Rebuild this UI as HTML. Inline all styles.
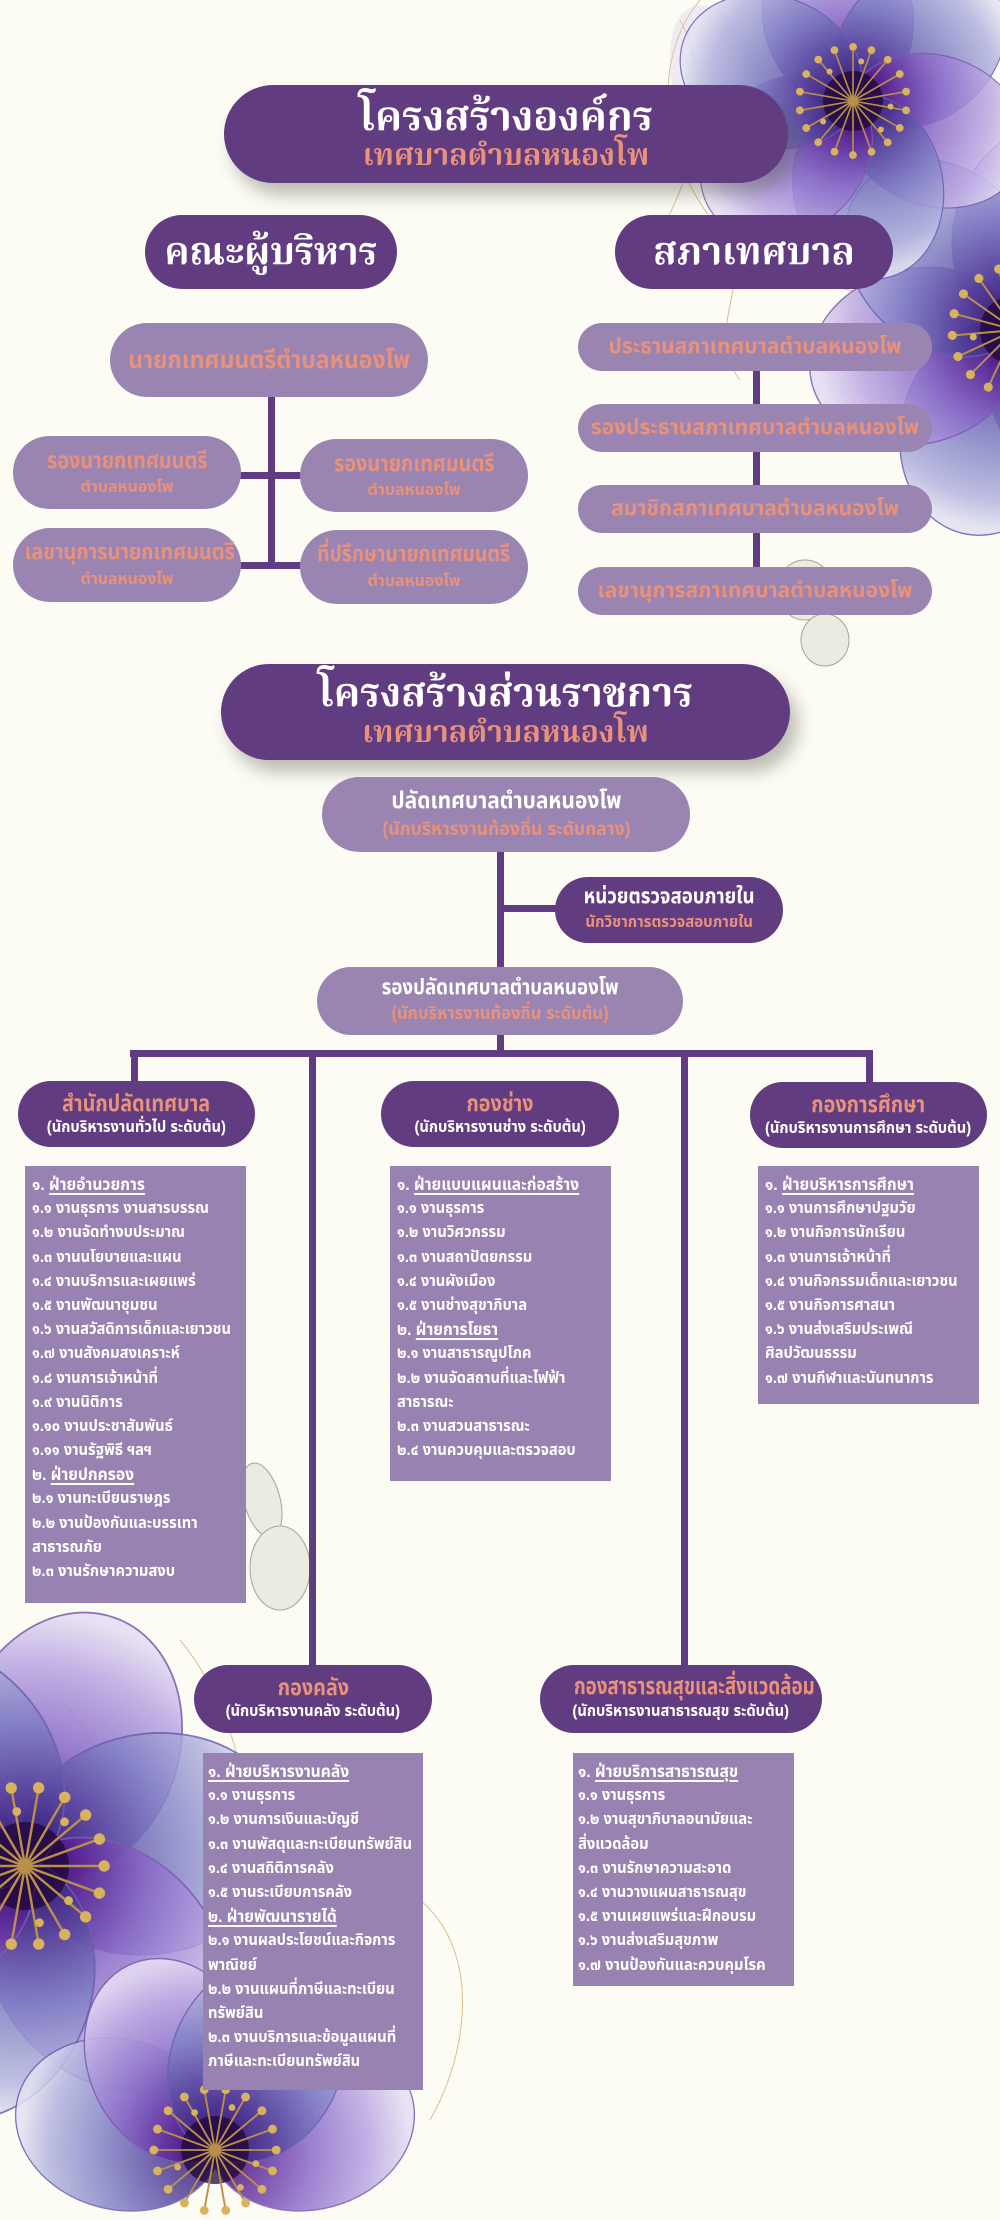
<!DOCTYPE html>
<html lang="th">
<head>
<meta charset="utf-8">
<style>
*{margin:0;padding:0;box-sizing:border-box}
html,body{width:1000px;height:2220px;overflow:hidden;background:#fcfbf4}
body{position:relative;font-family:"Liberation Sans","Noto Sans Thai","Noto Sans Thai UI","Sarabun","Loma","Garuda","Tlwg Typo","DejaVu Sans",sans-serif;font-weight:bold}
.a{position:absolute}
.pill{position:absolute;border-radius:999px;text-align:center;white-space:nowrap}
.dk{background:#613c80}
.lt{background:#9a84b2}
.ln{position:absolute;background:#613c80}
.w{color:#fff}
.s{color:#e8917b}
.serif{font-family:"Liberation Serif","Noto Serif Thai","Kinnari","Norasi","Noto Sans Thai",serif}
.hdr{box-shadow:8px 12px 16px rgba(70,75,60,.35)}
.c{display:inline-block;transform-origin:50% 50%}
.box{position:absolute;background:#9882b1;color:#fff;font-size:16px;line-height:24.2px;padding:7px 0 0 7px;white-space:nowrap}
.box div{height:24.2px;transform:scaleX(.92);transform-origin:0 50%}
.box u{text-decoration:underline;text-decoration-thickness:1.5px;text-underline-offset:3px}
.dept .t{font-size:23px;line-height:28px;color:#e8917b}
.dept .u{font-size:16px;line-height:22px;color:#fff}
.dept .t span{display:inline-block;transform:scaleX(.86)}
.dept .u span{display:inline-block;transform:scaleX(.92)}
.dept{padding-top:8px}
#bg{position:absolute;left:0;top:0;width:1000px;height:2220px;overflow:hidden}
</style>
</head>
<body>

<div id="bg">
<svg width="1000" height="2220" viewBox="0 0 1000 2220" style="display:block;overflow:hidden">
<defs>
<radialGradient id="pg" cx="0" cy="0" r="115" gradientUnits="userSpaceOnUse">
<stop offset="0" stop-color="#24083f"/>
<stop offset="0.2" stop-color="#5a2293"/>
<stop offset="0.5" stop-color="#8b6dc9"/>
<stop offset="0.8" stop-color="#bba8e2"/>
<stop offset="1" stop-color="#e6ddf3"/>
</radialGradient>
<radialGradient id="pb" cx="0" cy="0" r="115" gradientUnits="userSpaceOnUse">
<stop offset="0" stop-color="#2c1660"/>
<stop offset="0.25" stop-color="#4f3b96"/>
<stop offset="0.55" stop-color="#7d7cc2"/>
<stop offset="0.85" stop-color="#b3b4de"/>
<stop offset="1" stop-color="#e2e2f2"/>
</radialGradient>
<g id="st">
<circle r="20" fill="#22073a" opacity=".75"/>
<path d="M0 0L36 0M0 0L33.8 12.3M0 0L27.6 23.1M0 0L18 31.2M0 0L6.3 35.5M0 0L-6.3 35.5M0 0L-18 31.2M0 0L-27.6 23.1M0 0L-33.8 12.3M0 0L-36 0M0 0L-33.8 -12.3M0 0L-27.6 -23.1M0 0L-18 -31.2M0 0L-6.3 -35.5M0 0L6.3 -35.5M0 0L18 -31.2M0 0L27.6 -23.1M0 0L33.8 -12.3" stroke="#b8904a" stroke-width="1.1" fill="none"/>
<g fill="#d8b25c">
<circle cx="36" cy="0" r="2.6"/><circle cx="33.8" cy="12.3" r="2.6"/><circle cx="27.6" cy="23.1" r="2.6"/><circle cx="18" cy="31.2" r="2.6"/><circle cx="6.3" cy="35.5" r="2.6"/><circle cx="-6.3" cy="35.5" r="2.6"/><circle cx="-18" cy="31.2" r="2.6"/><circle cx="-27.6" cy="23.1" r="2.6"/><circle cx="-33.8" cy="12.3" r="2.6"/><circle cx="-36" cy="0" r="2.6"/><circle cx="-33.8" cy="-12.3" r="2.6"/><circle cx="-27.6" cy="-23.1" r="2.6"/><circle cx="-18" cy="-31.2" r="2.6"/><circle cx="-6.3" cy="-35.5" r="2.6"/><circle cx="6.3" cy="-35.5" r="2.6"/><circle cx="18" cy="-31.2" r="2.6"/><circle cx="27.6" cy="-23.1" r="2.6"/><circle cx="33.8" cy="-12.3" r="2.6"/>
<circle cx="24" cy="8" r="2"/><circle cx="-22" cy="10" r="2"/><circle cx="10" cy="-25" r="2"/><circle cx="-12" cy="-22" r="2"/><circle cx="15" cy="22" r="2"/>
</g>
</g>
<g id="fl">
<ellipse cx="0" cy="-58" rx="50" ry="62" fill="url(#pg)" opacity=".88" stroke="#7a5cb0" stroke-width=".8"/>
<ellipse cx="0" cy="-58" rx="50" ry="62" fill="url(#pb)" opacity=".85" stroke="#6d5cb0" stroke-width=".8" transform="rotate(60)"/>
<ellipse cx="0" cy="-58" rx="50" ry="62" fill="url(#pg)" opacity=".85" stroke="#7a5cb0" stroke-width=".8" transform="rotate(120)"/>
<ellipse cx="0" cy="-58" rx="50" ry="62" fill="url(#pb)" opacity=".85" stroke="#6d5cb0" stroke-width=".8" transform="rotate(180)"/>
<ellipse cx="0" cy="-58" rx="50" ry="62" fill="url(#pg)" opacity=".85" stroke="#7a5cb0" stroke-width=".8" transform="rotate(240)"/>
<ellipse cx="0" cy="-58" rx="50" ry="62" fill="url(#pb)" opacity=".85" stroke="#6d5cb0" stroke-width=".8" transform="rotate(300)"/>
<use href="#st"/>
</g>
<g id="flh">
<ellipse cx="0" cy="-58" rx="50" ry="62" fill="url(#pb)" opacity=".85" stroke="#6d5cb0" stroke-width=".8" transform="rotate(-75)"/>
<ellipse cx="0" cy="-58" rx="50" ry="62" fill="url(#pg)" opacity=".85" stroke="#7a5cb0" stroke-width=".8" transform="rotate(75)"/>
<ellipse cx="0" cy="-58" rx="50" ry="62" fill="url(#pg)" opacity=".88" stroke="#7a5cb0" stroke-width=".8" transform="rotate(-25)"/>
<ellipse cx="0" cy="-58" rx="50" ry="62" fill="url(#pb)" opacity=".85" stroke="#6d5cb0" stroke-width=".8" transform="rotate(25)"/>
<use href="#st"/>
</g>
</defs>

<g fill="none" stroke="#c9a862" stroke-width="1" opacity=".7">
<path d="M700 0C650 60 660 160 720 230C760 280 700 330 740 380"/>
<path d="M680 20C720 90 690 200 640 260"/>
<path d="M760 250C820 300 880 280 930 330"/>
<path d="M60 1700C120 1760 160 1900 140 2000"/>
<path d="M300 1760C340 1820 300 1900 360 1960"/>
<path d="M420 1900C480 1950 470 2050 430 2120"/>
<path d="M180 1640C230 1700 260 1800 240 1880"/>
</g>
<g opacity=".35" fill="#d9cdee">
<ellipse cx="730" cy="110" rx="50" ry="110" transform="rotate(-20 730 110)"/>
<ellipse cx="330" cy="1900" rx="50" ry="120" transform="rotate(30 330 1900)"/>
</g>

<use href="#fl" transform="translate(1015,330) scale(1.75) rotate(15)"/>
<use href="#fl" transform="translate(853,101) scale(1.5) rotate(-10)"/>
<use href="#fl" transform="translate(25,1866) scale(2.2) rotate(20)"/>
<use href="#flh" transform="translate(215,2150) scale(1.7)"/>

<g fill="#ecebe2" stroke="#a5a595" stroke-width="1">
<ellipse cx="805" cy="590" rx="28" ry="30"/>
<ellipse cx="825" cy="640" rx="24" ry="26"/>
<ellipse cx="262" cy="1500" rx="18" ry="38" transform="rotate(-15 262 1500)"/>
<ellipse cx="280" cy="1568" rx="30" ry="42"/>
</g>
</svg>
</div>

<!-- ===== Section 1 ===== -->
<div class="pill dk hdr" style="left:224px;top:85px;width:564px;height:98px;padding-top:8px">
<div class="w serif" style="font-size:41px;line-height:46px">โครงสร้างองค์กร</div>
<div class="s serif" style="font-size:30px;line-height:34px">เทศบาลตำบลหนองโพ</div>
</div>

<div class="pill dk" style="left:145px;top:215px;width:252px;height:74px;line-height:74px">
<span class="w serif" style="font-size:38px">คณะผู้บริหาร</span>
</div>
<div class="pill dk" style="left:615px;top:215px;width:278px;height:74px;line-height:74px">
<span class="w serif" style="font-size:38px">สภาเทศบาล</span>
</div>

<div class="ln" style="left:268px;top:396px;width:7px;height:173px"></div>
<div class="ln" style="left:240px;top:472px;width:61px;height:7px"></div>
<div class="ln" style="left:240px;top:562px;width:61px;height:7px"></div>

<div class="pill lt" style="left:110px;top:323px;width:318px;height:74px;line-height:74px">
<span class="s c" style="font-size:25px;transform:scaleX(.92)">นายกเทศมนตรีตำบลหนองโพ</span>
</div>

<div class="pill lt" style="left:13px;top:436px;width:228px;height:73px;padding-top:10px">
<div class="s" style="font-size:23px;line-height:28px"><span class="c" style="transform:scaleX(.86)">รองนายกเทศมนตรี</span></div>
<div class="s" style="font-size:16px;line-height:24px;margin-top:2px">ตำบลหนองโพ</div>
</div>
<div class="pill lt" style="left:300px;top:439px;width:228px;height:73px;padding-top:10px">
<div class="s" style="font-size:23px;line-height:28px"><span class="c" style="transform:scaleX(.86)">รองนายกเทศมนตรี</span></div>
<div class="s" style="font-size:16px;line-height:24px;margin-top:2px">ตำบลหนองโพ</div>
</div>
<div class="pill lt" style="left:13px;top:528px;width:228px;height:74px;padding-top:10px">
<div class="s" style="font-size:22px;line-height:28px"><span class="c" style="transform:scaleX(.9)">เลขานุการนายกเทศมนตรี</span></div>
<div class="s" style="font-size:16px;line-height:24px;margin-top:2px">ตำบลหนองโพ</div>
</div>
<div class="pill lt" style="left:300px;top:530px;width:228px;height:74px;padding-top:10px">
<div class="s" style="font-size:22px;line-height:28px"><span class="c" style="transform:scaleX(.88)">ที่ปรึกษานายกเทศมนตรี</span></div>
<div class="s" style="font-size:16px;line-height:24px;margin-top:2px">ตำบลหนองโพ</div>
</div>

<div class="ln" style="left:753px;top:370px;width:7px;height:198px"></div>
<div class="pill lt" style="left:578px;top:323px;width:354px;height:48px;line-height:48px"><span class="s" style="font-size:21px">ประธานสภาเทศบาลตำบลหนองโพ</span></div>
<div class="pill lt" style="left:578px;top:404px;width:354px;height:48px;line-height:48px"><span class="s" style="font-size:21px">รองประธานสภาเทศบาลตำบลหนองโพ</span></div>
<div class="pill lt" style="left:578px;top:485px;width:354px;height:48px;line-height:48px"><span class="s" style="font-size:21px">สมาชิกสภาเทศบาลตำบลหนองโพ</span></div>
<div class="pill lt" style="left:578px;top:567px;width:354px;height:48px;line-height:48px"><span class="s" style="font-size:21px">เลขานุการสภาเทศบาลตำบลหนองโพ</span></div>

<!-- ===== Section 2 ===== -->
<div class="pill dk hdr" style="left:221px;top:664px;width:569px;height:96px;padding-top:6px">
<div class="w serif" style="font-size:40px;line-height:46px">โครงสร้างส่วนราชการ</div>
<div class="s serif" style="font-size:30px;line-height:34px">เทศบาลตำบลหนองโพ</div>
</div>

<div class="ln" style="left:497px;top:851px;width:7px;height:205px"></div>
<div class="ln" style="left:503px;top:905px;width:53px;height:7px"></div>
<div class="ln" style="left:130px;top:1050px;width:743px;height:7px"></div>
<div class="ln" style="left:131px;top:1050px;width:7px;height:32px"></div>
<div class="ln" style="left:866px;top:1050px;width:7px;height:33px"></div>
<div class="ln" style="left:309px;top:1050px;width:7px;height:616px"></div>
<div class="ln" style="left:681px;top:1050px;width:7px;height:616px"></div>

<div class="pill lt" style="left:322px;top:777px;width:368px;height:75px;padding-top:8px">
<div class="w" style="font-size:23px;line-height:30px"><span class="c" style="transform:scaleX(.91)">ปลัดเทศบาลตำบลหนองโพ</span></div>
<div class="s" style="font-size:19px;line-height:30px"><span class="c" style="transform:scaleX(.93)">(นักบริหารงานท้องถิ่น ระดับกลาง)</span></div>
</div>

<div class="pill dk" style="left:555px;top:877px;width:228px;height:66px;padding-top:7px">
<div class="w" style="font-size:21px;line-height:26px"><span class="c" style="transform:scaleX(.89)">หน่วยตรวจสอบภายใน</span></div>
<div class="s" style="font-size:16px;line-height:26px"><span class="c" style="transform:scaleX(.94)">นักวิชาการตรวจสอบภายใน</span></div>
</div>

<div class="pill lt" style="left:317px;top:967px;width:366px;height:68px;padding-top:6px">
<div class="w" style="font-size:21px;line-height:30px"><span class="c" style="transform:scaleX(.89)">รองปลัดเทศบาลตำบลหนองโพ</span></div>
<div class="s" style="font-size:18px;line-height:20px"><span class="c" style="transform:scaleX(.92)">(นักบริหารงานท้องถิ่น ระดับต้น)</span></div>
</div>

<div class="pill dk dept" style="left:18px;top:1081px;width:237px;height:66px">
<div class="t"><span>สำนักปลัดเทศบาล</span></div><div class="u"><span>(นักบริหารงานทั่วไป ระดับต้น)</span></div>
</div>
<div class="pill dk dept" style="left:381px;top:1081px;width:238px;height:66px">
<div class="t"><span>กองช่าง</span></div><div class="u"><span>(นักบริหารงานช่าง ระดับต้น)</span></div>
</div>
<div class="pill dk dept" style="left:750px;top:1082px;width:237px;height:66px">
<div class="t"><span>กองการศึกษา</span></div><div class="u"><span>(นักบริหารงานการศึกษา ระดับต้น)</span></div>
</div>
<div class="pill dk dept" style="left:194px;top:1665px;width:238px;height:68px">
<div class="t"><span>กองคลัง</span></div><div class="u"><span>(นักบริหารงานคลัง ระดับต้น)</span></div>
</div>
<div class="pill dk dept" style="left:540px;top:1665px;width:282px;height:68px">
<div class="t" style="font-size:24px"><span style="transform:scaleX(.78)">กองสาธารณสุขและสิ่งแวดล้อม</span></div><div class="u"><span>(นักบริหารงานสาธารณสุข ระดับต้น)</span></div>
</div>

<div class="box" style="left:25px;top:1166px;width:221px;height:437px">
<div style="font-size:17px">๑. <u>ฝ่ายอำนวยการ</u></div>
<div>๑.๑ งานธุรการ งานสารบรรณ</div>
<div>๑.๒ งานจัดทำงบประมาณ</div>
<div>๑.๓ งานนโยบายและแผน</div>
<div>๑.๔ งานบริการและเผยแพร่</div>
<div>๑.๕ งานพัฒนาชุมชน</div>
<div>๑.๖ งานสวัสดิการเด็กและเยาวชน</div>
<div>๑.๗ งานสังคมสงเคราะห์</div>
<div>๑.๘ งานการเจ้าหน้าที่</div>
<div>๑.๙ งานนิติการ</div>
<div>๑.๑๐ งานประชาสัมพันธ์</div>
<div>๑.๑๑ งานรัฐพิธี ฯลฯ</div>
<div style="font-size:17px">๒. <u>ฝ่ายปกครอง</u></div>
<div>๒.๑ งานทะเบียนราษฎร</div>
<div>๒.๒ งานป้องกันและบรรเทา</div>
<div>สาธารณภัย</div>
<div>๒.๓ งานรักษาความสงบ</div>
</div>

<div class="box" style="left:390px;top:1166px;width:221px;height:315px">
<div style="font-size:17px">๑. <u>ฝ่ายแบบแผนและก่อสร้าง</u></div>
<div>๑.๑ งานธุรการ</div>
<div>๑.๒ งานวิศวกรรม</div>
<div>๑.๓ งานสถาปัตยกรรม</div>
<div>๑.๔ งานผังเมือง</div>
<div>๑.๕ งานช่างสุขาภิบาล</div>
<div style="font-size:17px">๒. <u>ฝ่ายการโยธา</u></div>
<div>๒.๑ งานสาธารณูปโภค</div>
<div>๒.๒ งานจัดสถานที่และไฟฟ้า</div>
<div>สาธารณะ</div>
<div>๒.๓ งานสวนสาธารณะ</div>
<div>๒.๔ งานควบคุมและตรวจสอบ</div>
</div>

<div class="box" style="left:758px;top:1166px;width:221px;height:238px">
<div style="font-size:17px">๑. <u>ฝ่ายบริหารการศึกษา</u></div>
<div>๑.๑ งานการศึกษาปฐมวัย</div>
<div>๑.๒ งานกิจการนักเรียน</div>
<div>๑.๓ งานการเจ้าหน้าที่</div>
<div>๑.๔ งานกิจกรรมเด็กและเยาวชน</div>
<div>๑.๕ งานกิจการศาสนา</div>
<div>๑.๖ งานส่งเสริมประเพณี</div>
<div>ศิลปวัฒนธรรม</div>
<div>๑.๗ งานกีฬาและนันทนาการ</div>
</div>

<div class="box" style="left:203px;top:1753px;width:220px;height:337px;padding-left:5px">
<div style="font-size:17px"><u>๑. ฝ่ายบริหารงานคลัง</u></div>
<div>๑.๑ งานธุรการ</div>
<div>๑.๒ งานการเงินและบัญชี</div>
<div>๑.๓ งานพัสดุและทะเบียนทรัพย์สิน</div>
<div>๑.๔ งานสถิติการคลัง</div>
<div>๑.๕ งานระเบียบการคลัง</div>
<div style="font-size:17px"><u>๒. ฝ่ายพัฒนารายได้</u></div>
<div>๒.๑ งานผลประโยชน์และกิจการ</div>
<div>พาณิชย์</div>
<div>๒.๒ งานแผนที่ภาษีและทะเบียน</div>
<div>ทรัพย์สิน</div>
<div>๒.๓ งานบริการและข้อมูลแผนที่</div>
<div>ภาษีและทะเบียนทรัพย์สิน</div>
</div>

<div class="box" style="left:573px;top:1753px;width:221px;height:233px;padding-left:5px">
<div style="font-size:17px">๑. <u>ฝ่ายบริการสาธารณสุข</u></div>
<div>๑.๑ งานธุรการ</div>
<div>๑.๒ งานสุขาภิบาลอนามัยและ</div>
<div>สิ่งแวดล้อม</div>
<div>๑.๓ งานรักษาความสะอาด</div>
<div>๑.๔ งานวางแผนสาธารณสุข</div>
<div>๑.๕ งานเผยแพร่และฝึกอบรม</div>
<div>๑.๖ งานส่งเสริมสุขภาพ</div>
<div>๑.๗ งานป้องกันและควบคุมโรค</div>
</div>

</body>
</html>
